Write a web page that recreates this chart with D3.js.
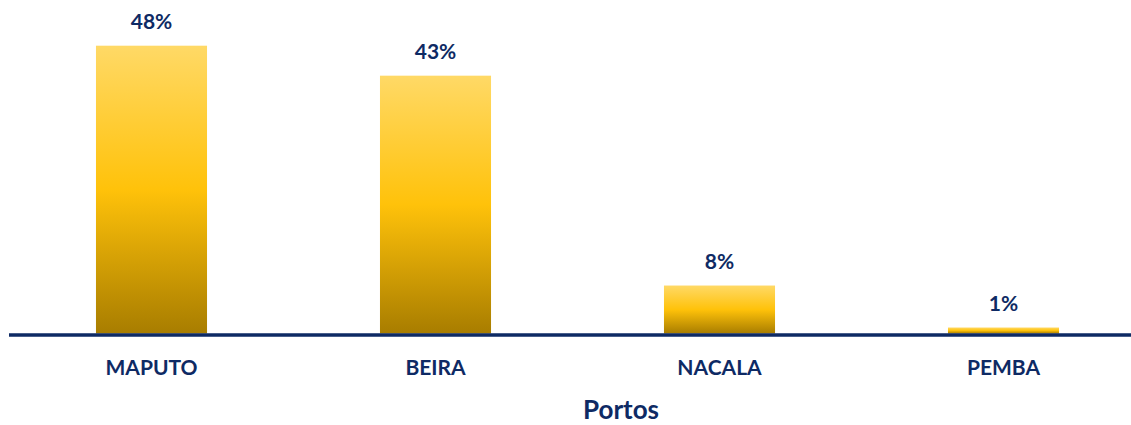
<!DOCTYPE html>
<html><head><meta charset="utf-8">
<script src="https://cdn.jsdelivr.net/npm/d3@7"></script>
<style>body{margin:0;background:#fff}svg{display:block}</style>
</head><body><svg id="c" width="1131" height="425"></svg>
<script>
const categories = ["MAPUTO", "BEIRA", "NACALA", "PEMBA"];
const values = [48, 43, 8, 1];
const valueLabels = ["48%", "43%", "8%", "1%"];
const axisTitle = "Portos";

const W = 1131, H = 425;
const svg = d3.select("#c");
const navy = "#0E2A64";
const font = "Lato, 'Open Sans', sans-serif";

const x = d3.scaleBand().domain(categories).range([9.5, 1145.5]).paddingInner(0.609).paddingOuter(0.3045);
const y = d3.scaleLinear().domain([0, 48]).range([333.5, 45.7]);

const defs = svg.append("defs");
const g = defs.append("linearGradient").attr("id","gold").attr("x1",0).attr("y1",0).attr("x2",0).attr("y2",1);
g.append("stop").attr("offset","0%").attr("stop-color","#FFD966");
g.append("stop").attr("offset","50%").attr("stop-color","#FFC20A");
g.append("stop").attr("offset","100%").attr("stop-color","#A87D00");

svg.selectAll("rect.bar").data(values).join("rect").attr("class","bar")
  .attr("x",(d,i)=>x(categories[i]))
  .attr("width",x.bandwidth())
  .attr("y",d=>y(d))
  .attr("height",d=>y(0)-y(d))
  .attr("fill","url(#gold)");

svg.selectAll("text.val").data(values).join("text").attr("class","val")
  .attr("x",(d,i)=>x(categories[i])+x.bandwidth()/2)
  .attr("y",d=>y(d)-17)
  .attr("text-anchor","middle")
  .attr("font-family",font).attr("font-weight","bold").attr("font-size",21)
  .attr("fill",navy)
  .text((d,i)=>valueLabels[i]);

const xAxis = d3.axisBottom(x).tickSize(0).tickPadding(26.5);
const ax = svg.append("g").attr("transform",`translate(0,${y(0)})`).call(xAxis);
ax.select(".domain").remove();
ax.selectAll("text").attr("font-family",font).attr("font-weight","bold").attr("font-size",21).attr("fill",navy);

svg.append("line").attr("x1",9).attr("x2",W).attr("y1",y(0)+1.5).attr("y2",y(0)+1.5)
  .attr("stroke",navy).attr("stroke-width",3.5);

svg.append("text").attr("x",621).attr("y",419).attr("text-anchor","middle")
  .attr("font-family",font).attr("font-weight","bold").attr("font-size",26).attr("fill",navy)
  .text(axisTitle);
</script></body></html>
